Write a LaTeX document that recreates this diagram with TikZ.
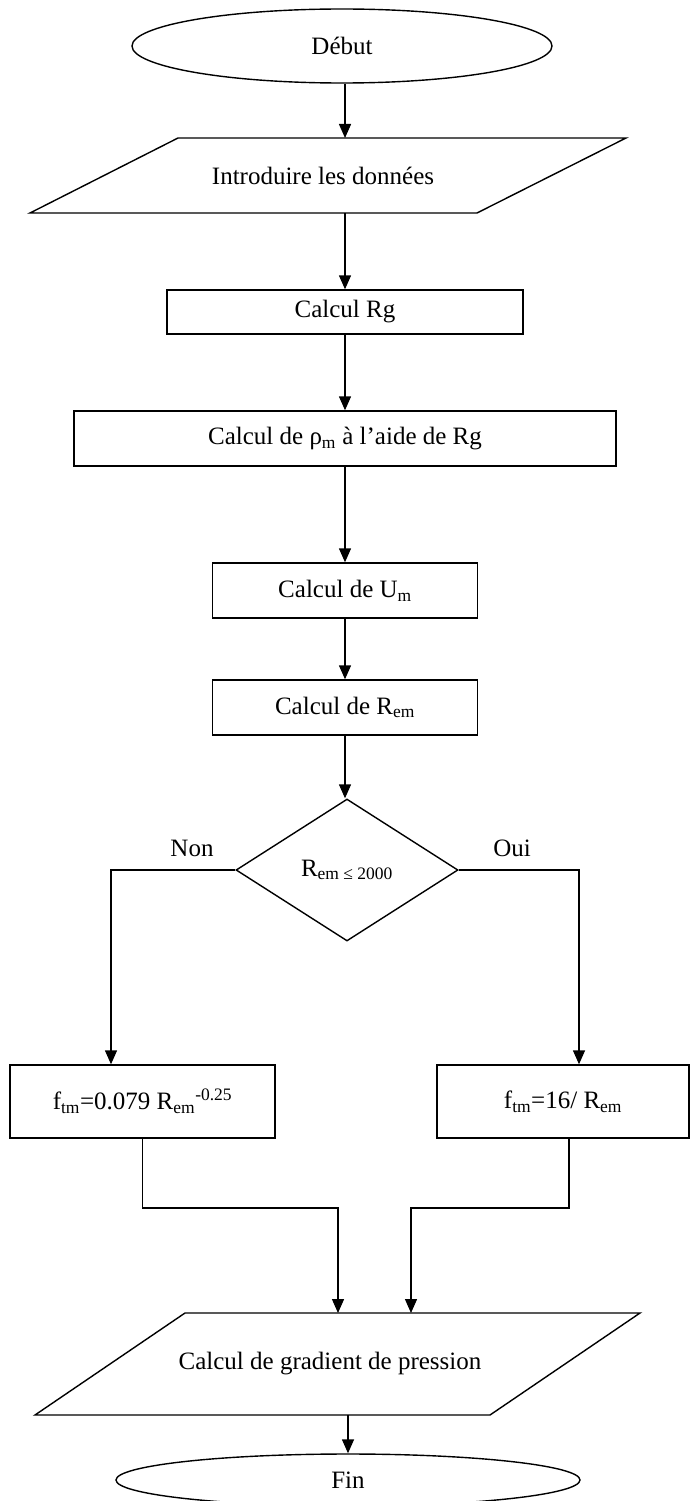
\documentclass[tikz,border=0pt]{standalone}
\usepackage{fontspec}
\setmainfont{Liberation Serif}
\usetikzlibrary{arrows.meta,shapes.geometric}
\begin{document}
\begin{tikzpicture}[x=1pt,y=-1pt,
  line width=1.4pt,
  arr/.style={-{Triangle[length=14pt,width=12pt]}},
  lbl/.style={font=\fontsize{25}{28}\selectfont,inner sep=0pt},
  box/.style={draw,rectangle,inner sep=0pt,lbl},
  oval/.style={draw,ellipse,inner sep=0pt,lbl},
  dia/.style={draw,diamond,inner sep=0pt,lbl}]
\useasboundingbox (0,0) rectangle (690,1501);
% start
\node[oval,minimum width=420pt,minimum height=74pt] (debut) at (342,46) {Début};
% input parallelogram
\draw (178,138) -- (626,138) -- (477,213) -- (30,213) -- cycle;
\node[lbl] (intro) at (323,176) {Introduire les données};
\coordinate (p1n) at (345,138);
\coordinate (p1s) at (345,213);
% boxes
\node[box,minimum width=356pt,minimum height=44pt] (rg) at (345,312) {Calcul Rg};
\node[box,minimum width=542pt,minimum height=55pt] (rho) at (345,438.5) {Calcul de ρ\textsubscript{m} à l’aide de Rg};
\node[box,minimum width=265pt,minimum height=55pt] (um) at (345,590.5) {Calcul de U\textsubscript{m}};
\node[box,minimum width=265pt,minimum height=55pt] (rem) at (345,707.5) {Calcul de R\textsubscript{em}};
% decision
\node[dia,minimum width=222pt,minimum height=142pt] (dec) at (347,870) {R\textsubscript{em ≤ 2000}};
\node[lbl] (non) at (192,848) {Non};
\node[lbl] (oui) at (512,848) {Oui};
% branches
\node[box,minimum width=265pt,minimum height=73pt] (ftl) at (142.5,1101.5) {f\textsubscript{tm}=0.079 R\textsubscript{em}\textsuperscript{-0.25}};
\node[box,minimum width=252pt,minimum height=73pt] (ftr) at (563,1101.5) {f\textsubscript{tm}=16/ R\textsubscript{em}};
% output parallelogram
\draw (185,1313) -- (640,1313) -- (490,1415) -- (35,1415) -- cycle;
\node[lbl] (grad) at (330,1364) {Calcul de gradient de pression};
\coordinate (gin1) at (338,1313);
\coordinate (gin2) at (411,1313);
\coordinate (gout) at (348,1415);
\coordinate (jl) at (338,1208);
\coordinate (jr) at (411,1208);
% end
\node[oval,minimum width=464pt,minimum height=52pt] (fin) at (348,1480) {Fin};
% connectors
\draw[arr] (p1n |- debut.south) -- (p1n);
\draw[arr] (p1s) -- (rg.north);
\draw[arr] (rg.south) -- (rho.north);
\draw[arr] (rho.south) -- (um.north);
\draw[arr] (um.south) -- (rem.north);
\draw[arr] (rem.south) -- (rem.south |- dec.north);
\draw[arr] (dec.west) -| ([xshift=-31.5pt]ftl.north);
\draw[arr] (dec.east) -| ([xshift=16pt]ftr.north);
\draw[arr] (ftl.south) |- (jl) -- (gin1);
\draw[arr] ([xshift=6pt]ftr.south) |- (jr) -- (gin2);
\draw[arr] (gout) -- (fin.north);
\end{tikzpicture}
\end{document}
